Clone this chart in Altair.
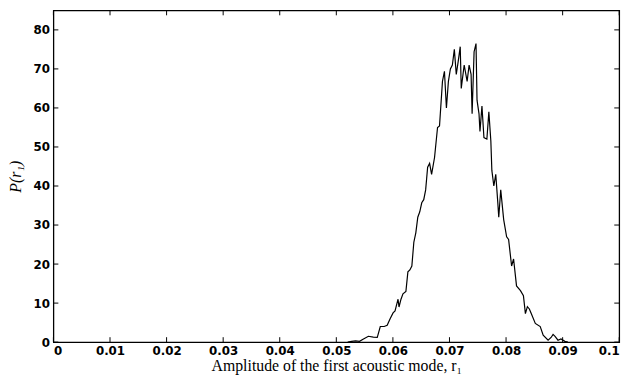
import altair as alt
import pandas as pd

# Traced curve: amplitude r1 and probability density P(r1)
r1 = [0.05201, 0.05271, 0.05340, 0.05410, 0.05480, 0.05567, 0.05654, 0.05724,
      0.05777, 0.05846, 0.05899, 0.05951, 0.06003, 0.06038, 0.06091, 0.06108,
      0.06143, 0.06178, 0.06230, 0.06265, 0.06300, 0.06335, 0.06370, 0.06405,
      0.06440, 0.06475, 0.06510, 0.06545, 0.06579, 0.06597, 0.06614, 0.06649,
      0.06684, 0.06736, 0.06789, 0.06824, 0.06876, 0.06911, 0.06946, 0.06981,
      0.07016, 0.07051, 0.07086, 0.07120, 0.07155, 0.07190, 0.07208, 0.07260,
      0.07312, 0.07347, 0.07382, 0.07400, 0.07435, 0.07469, 0.07487, 0.07522,
      0.07539, 0.07574, 0.07609, 0.07661, 0.07696, 0.07731, 0.07749, 0.07784,
      0.07818, 0.07853, 0.07871, 0.07906, 0.07958, 0.08010, 0.08045, 0.08098,
      0.08133, 0.08185, 0.08255, 0.08307, 0.08342, 0.08377, 0.08412, 0.08447,
      0.08517, 0.08604, 0.08656, 0.08743, 0.08796, 0.08831, 0.08866, 0.08918,
      0.08970, 0.09040, 0.09093]
p = [0.0, 0.2, 0.3, 0.2, 0.8, 1.5, 1.3, 1.2,
     4.0, 4.0, 4.3, 6.0, 7.5, 8.0, 11.0, 9.0,
     11.0, 12.4, 13.0, 18.0, 18.5, 19.5, 25.6, 28.0,
     32.0, 33.4, 35.7, 36.5, 39.0, 42.0, 44.8, 45.8,
     43.0, 47.3, 55.0, 55.4, 66.8, 69.4, 60.0, 66.8,
     70.0, 71.0, 75.0, 68.6, 72.0, 75.7, 65.0, 71.0,
     66.8, 71.0, 68.6, 58.5, 74.4, 76.5, 62.0, 58.5,
     54.0, 60.5, 52.4, 52.0, 59.0, 51.6, 44.0, 40.0,
     43.0, 36.0, 32.0, 39.0, 31.4, 27.0, 26.3, 19.5,
     21.3, 14.4, 13.2, 11.9, 7.3, 9.1, 8.5, 7.3,
     4.8, 4.0, 1.8, 0.5, 1.2, 2.0, 1.5, 0.5,
     0.8, 0.2, 0.0]

x_ticks = [0, 0.01, 0.02, 0.03, 0.04, 0.05, 0.06, 0.07, 0.08, 0.09, 0.1]
y_ticks = [0, 10, 20, 30, 40, 50, 60, 70, 80]

W, H = 573, 336
TL = 5

df = pd.DataFrame({"r1": r1, "p": p})
dfx = pd.DataFrame({"t": x_ticks})
dfy = pd.DataFrame({"t": y_ticks})

xscale = alt.Scale(domain=[0, 0.1], nice=False, zero=False)
yscale = alt.Scale(domain=[0, 85], nice=False)

line = alt.Chart(df).mark_line(color="black", strokeWidth=1.2).encode(
    x=alt.X("r1:Q", scale=xscale,
            axis=alt.Axis(values=x_ticks,
                          labelExpr="datum.value == 0 ? '0' : format(datum.value, '.2~f')",
                          title="Amplitude of the first acoustic mode, r₁")),
    y=alt.Y("p:Q", scale=yscale,
            axis=alt.Axis(values=y_ticks, title="P(r₁)", titleFontStyle="italic")),
)

bot = alt.Chart(dfx).mark_rule(color="black").encode(
    x=alt.X("t:Q", scale=xscale), y=alt.value(H), y2=alt.value(H - TL))
top = alt.Chart(dfx).mark_rule(color="black").encode(
    x=alt.X("t:Q", scale=xscale), y=alt.value(0), y2=alt.value(TL))
left = alt.Chart(dfy).mark_rule(color="black").encode(
    y=alt.Y("t:Q", scale=yscale), x=alt.value(0), x2=alt.value(TL))
right = alt.Chart(dfy).mark_rule(color="black").encode(
    y=alt.Y("t:Q", scale=yscale), x=alt.value(W), x2=alt.value(W - TL))

chart = alt.layer(line, bot, top, left, right).properties(
    width=W, height=H,
    autosize=alt.AutoSizeParams(type="none"),
    padding={"left": 46, "top": 0, "right": 17, "bottom": 40},
).configure_view(
    stroke="black", strokeWidth=1.3
).configure_axis(
    domain=False, ticks=False, grid=False,
    labelFont="DejaVu Sans", labelFontWeight="bold", labelFontSize=12,
    labelColor="black", labelPadding=4,
    titleFont="Liberation Serif", titleFontWeight="normal", titleFontSize=16,
    titleColor="black",
).configure_axisX(
    titlePadding=1
).configure_axisY(
    titlePadding=10
)

chart.save("out.html", embed_options={"renderer": "svg", "actions": False})
